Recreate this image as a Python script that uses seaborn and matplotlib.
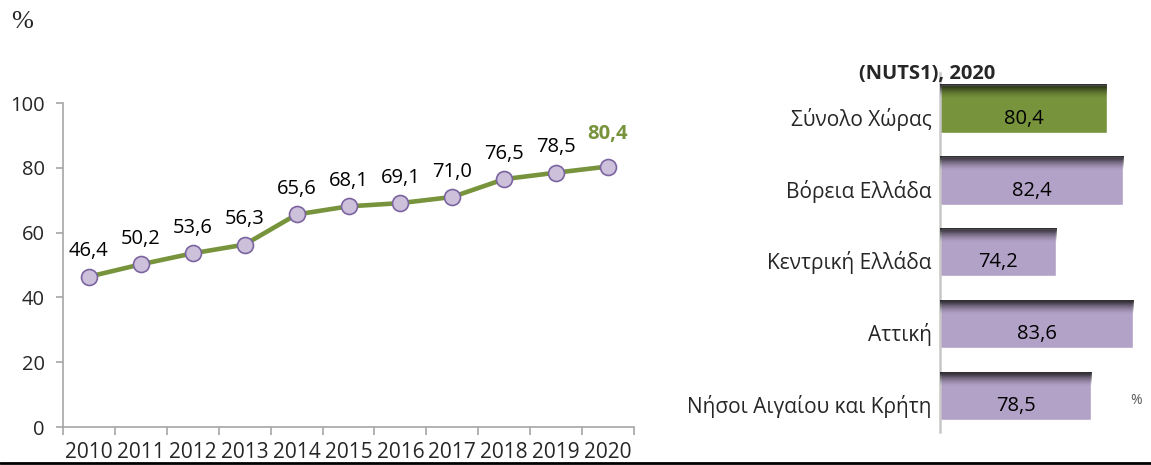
#!/usr/bin/env python3
# plot.py - line chart 2010-2020 + NUTS1 bars for 2020

import numpy as np
import pandas as pd
import matplotlib
matplotlib.use("Agg")
import matplotlib.pyplot as plt
import matplotlib.transforms as mtransforms
from matplotlib.lines import Line2D
import seaborn as sns

sns.set_theme(style="white")
plt.rcParams["font.family"] = ["Open Sans", "DejaVu Sans"]

# data
years = ["2010", "2011", "2012", "2013", "2014", "2015",
         "2016", "2017", "2018", "2019", "2020"]
values = [46.4, 50.2, 53.6, 56.3, 65.6, 68.1, 69.1, 71.0, 76.5, 78.5, 80.4]

regions = ["Σύνολο Χώρας", "Βόρεια Ελλάδα", "Κεντρική Ελλάδα",
           "Αττική", "Νήσοι Αιγαίου και Κρήτη"]
region_values = [80.4, 82.4, 74.2, 83.6, 78.5]

GREEN = "#77933C"
LAVENDER = "#B3A2C7"
MARKER_FACE = "#CCC0DA"
MARKER_EDGE = "#7B64A0"
AXIS_GREY = "#A6A6A6"

W, H = 1151, 465
fig = plt.figure(figsize=(W / 100, H / 100), dpi=100)

def px_axes(x0, y0, x1, y1):
    # pixel box (top-left origin) -> figure fraction
    return fig.add_axes([x0 / W, 1 - y1 / H, (x1 - x0) / W, (y1 - y0) / H])

# ---- left: line chart ----
ax = px_axes(63, 103, 634, 427)
df = pd.DataFrame({"pos": np.arange(len(years)), "value": values})
sns.lineplot(data=df, x="pos", y="value", ax=ax, color=GREEN, lw=3.3,
             marker="o", markersize=11.5, markerfacecolor=MARKER_FACE,
             markeredgecolor=MARKER_EDGE, markeredgewidth=1.2)

ax.set_xlim(-0.5, len(years) - 0.5)
ax.set_ylim(0, 100)
ax.set_yticks([0, 20, 40, 60, 80, 100])
ax.set_xticks(df["pos"], years)
ax.set_xticks(np.arange(len(years) + 1) - 0.5, minor=True)
ax.set_xlabel("")
ax.set_ylabel("")
for s in ["top", "right"]:
    ax.spines[s].set_visible(False)
for s in ["left", "bottom"]:
    ax.spines[s].set_color(AXIS_GREY)
    ax.spines[s].set_linewidth(1.2)
ax.tick_params(axis="x", which="major", length=0, pad=11, labelsize=15)
ax.tick_params(axis="x", which="minor", length=6, width=1.2,
               color=AXIS_GREY, direction="out", bottom=True)
ax.tick_params(axis="y", length=5, width=1.2, color=AXIS_GREY,
               direction="out", left=True, pad=8, labelsize=14.5)

for i, v in enumerate(values):
    txt = f"{v:.1f}".replace(".", ",")
    last = i == len(values) - 1
    ax.annotate(txt, (i, v), xytext=(0, 16 if last else 11),
                textcoords="offset points", ha="center", va="bottom",
                fontsize=14.5, color=GREEN if last else "black",
                fontweight="bold" if last else "normal")

# ---- right: NUTS1 bars ----
bx = px_axes(940, 73, W, 432)
bar_colors = [GREEN] + [LAVENDER] * (len(regions) - 1)
sns.barplot(x=region_values, y=regions, hue=regions, palette=bar_colors,
            legend=False, orient="h", width=0.667, ax=bx, saturation=1)
xlo, xhi = 60, 85.8
ylims = bx.get_ylim()

# dark shading along the top edge of each bar
grad = np.zeros((64, 1, 4))
grad[:, 0, 3] = np.linspace(0.9, 0.0, 64) ** 1.6
for p in bx.patches:
    y = p.get_y()
    h = p.get_height()
    bx.imshow(grad, extent=(xlo, p.get_x() + p.get_width(), y + 0.3 * h, y),
              aspect="auto", origin="upper", zorder=3, interpolation="bilinear")
    bx.text((xlo + p.get_x() + p.get_width()) / 2, y + h / 2,
            f"{p.get_width():.1f}".replace(".", ","),
            ha="center", va="center", fontsize=14.5, color="black", zorder=4,
            transform=bx.transData + mtransforms.ScaledTranslation(
                0, -10 / 100, fig.dpi_scale_trans))

bx.set_xlim(xlo, xhi)
bx.set_ylim(ylims)
bx.set_xticks([])
bx.set_xlabel("")
bx.set_ylabel("")
for s in ["top", "right", "bottom"]:
    bx.spines[s].set_visible(False)
bx.spines["left"].set_color("#C8C8C8")
bx.spines["left"].set_linewidth(1.8)
bx.tick_params(axis="y", length=0, pad=6, labelsize=15)
shift = mtransforms.ScaledTranslation(0, -8 / 100, fig.dpi_scale_trans)
for lab in bx.get_yticklabels():
    lab.set_transform(lab.get_transform() + shift)

# ---- extra texts and rule ----
fig.text(927 / W, 1 - 74 / H, "(NUTS1), 2020", ha="center", va="center",
         fontsize=14.5, fontweight="bold")
fig.text(22 / W, 1 - 22 / H, "%", ha="center", va="center", fontsize=19,
         family="Liberation Serif")
fig.text(1136 / W, 1 - 400 / H, "%", ha="center", va="center", fontsize=10,
         color="#595959")
fig.add_artist(Line2D([0, 1], [1 - 463 / H, 1 - 463 / H],
                      transform=fig.transFigure, color="black", lw=2))

fig.savefig("out.png", dpi=100)
plt.close(fig)
